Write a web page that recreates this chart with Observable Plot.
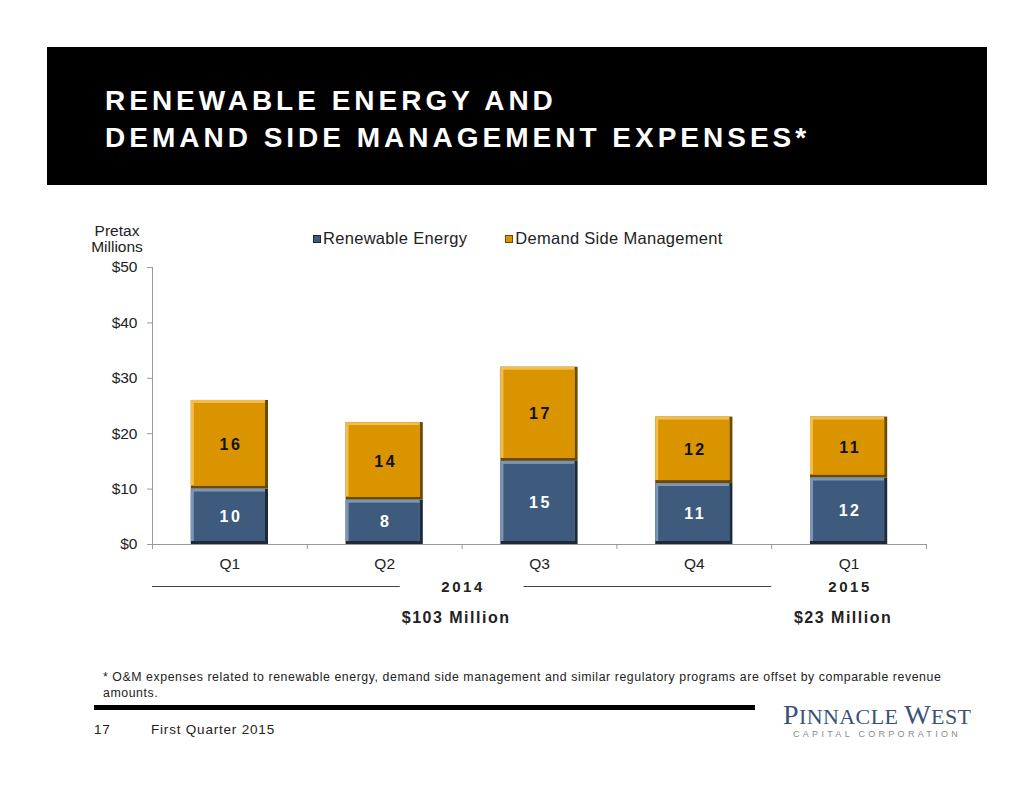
<!DOCTYPE html>
<html><head><meta charset="utf-8">
<script src="https://cdn.jsdelivr.net/npm/d3@7"></script>
<script src="https://cdn.jsdelivr.net/npm/@observablehq/plot@0.6"></script>
<style>
body{margin:0;width:1034px;height:799px;position:relative;background:#fff;font-family:"Liberation Sans",Arial,sans-serif;overflow:hidden;color:#222}
.banner{position:absolute;left:47px;top:47px;width:940px;height:138px;background:#000}
.title{position:absolute;left:105px;top:82px;color:#fff;font-weight:bold;font-size:28px;letter-spacing:4px;line-height:37px;white-space:nowrap}
.ylab{position:absolute;left:67px;width:100px;top:223px;text-align:center;font-size:15.5px;line-height:16px}
.legend{position:absolute;top:229px;left:313px;font-size:16.5px;letter-spacing:0.3px;white-space:nowrap;display:flex;align-items:center}
.legend .sw{display:inline-block;width:8px;height:8px;margin-right:2px}
.legend .item{display:flex;align-items:center;margin-right:38px}
#chart{position:absolute;left:0;top:250px}
.foot{position:absolute;left:103px;top:669px;font-size:12.3px;letter-spacing:0.58px;line-height:16px;white-space:nowrap}
.rule{position:absolute;left:94px;top:705px;width:661px;height:5px;background:#000}
.page{position:absolute;left:94px;top:722px;font-size:13.5px;letter-spacing:0.8px}
.qtr{position:absolute;left:151px;top:722px;font-size:13.5px;letter-spacing:0.8px}
.logo{position:absolute;left:783px;top:699px;font-family:"Liberation Serif","DejaVu Serif",serif;color:#3b5275;font-size:22px;letter-spacing:0.4px;white-space:nowrap}
.logo .big{font-size:28px}
.logo2{position:absolute;left:793px;top:729px;font-size:9px;letter-spacing:3.3px;color:#8a8a8a;white-space:nowrap}
g[aria-description="values"] text{letter-spacing:2.5px}
g[aria-description="years"] text{letter-spacing:2.6px}
g[aria-description="totals"] text{letter-spacing:1.5px}
</style>
</head><body>
<div class="banner"></div>
<div class="title">RENEWABLE ENERGY AND<br>DEMAND SIDE MANAGEMENT EXPENSES*</div>
<div class="ylab">Pretax<br>Millions</div>
<div class="legend" id="legend"></div>
<div id="chart"></div>
<div class="foot">* O&amp;M expenses related to renewable energy, demand side management and similar regulatory programs are offset by comparable revenue<br>amounts.</div>
<div class="rule"></div>
<div class="page">17</div>
<div class="qtr">First Quarter 2015</div>
<div class="logo"><span class="big">P</span>INNACLE <span class="big">W</span>EST</div>
<div class="logo2">CAPITAL CORPORATION</div>
<script>
// ---- data ----
const quarters = ["Q1", "Q2", "Q3", "Q4", "Q1"];
const renewable = [10, 8, 15, 11, 12];
const demandSide = [16, 14, 17, 12, 11];
const seriesNames = ["Renewable Energy", "Demand Side Management"];
const yTicks = [0, 10, 20, 30, 40, 50];
const years = ["2014", "2015"];
const yearTotals = ["$103 Million", "$23 Million"];
const yearStart = [0, 4];   // first quarter index of each year
const yearEnd = [4, 5];     // one past last quarter index

// palette: main, light edge, dark edge, label colour
const pal = {
  "Renewable Energy": {main: "#3e5b7d", light: "#7b95b4", dark: "#1c2a3b", text: "#fff"},
  "Demand Side Management": {main: "#d99400", light: "#f2bd4a", dark: "#6e4a00", text: "#111"}
};

// legend
const leg = document.getElementById("legend");
seriesNames.forEach(n => {
  const it = document.createElement("div"); it.className = "item";
  it.innerHTML = `<span class="sw" style="background:${pal[n].main};border:1px solid ${pal[n].dark};box-sizing:border-box"></span>${n}`;
  leg.appendChild(it);
});

// stacked segments
const segs = [];
quarters.forEach((q, i) => {
  segs.push({i, series: seriesNames[0], y1: 0, y2: renewable[i], v: renewable[i]});
  segs.push({i, series: seriesNames[1], y1: renewable[i], y2: renewable[i] + demandSide[i], v: demandSide[i]});
});

const groups = years.map((y, k) => ({label: y, total: yearTotals[k], a: yearStart[k], b: yearEnd[k], mid: (yearStart[k] + yearEnd[k]) / 2}));
const gap = 0.4;
const brackets = [];
groups.forEach(g => {
  if (g.b - g.a > 1) {
    brackets.push({x1: g.a, x2: g.mid - gap});
    brackets.push({x1: g.mid + gap, x2: g.b});
  }
});

const inset = 38.8;
const bev = 3;
const X1 = d => d.i, X2 = d => d.i + 1;

const chart = Plot.plot({
  width: 1034,
  height: 400,
  marginLeft: 152,
  marginRight: 108,
  marginTop: 17,
  marginBottom: 106,
  style: {fontFamily: '"Liberation Sans", Arial, sans-serif', fontSize: "15px", color: "#222", background: "transparent", overflow: "visible"},
  x: {domain: [0, quarters.length], axis: null},
  y: {domain: [0, 50], axis: null},
  marks: [
    Plot.ruleX([0], {stroke: "#9a9a9a"}),
    Plot.ruleY([0], {stroke: "#9a9a9a"}),
    Plot.axisY(yTicks, {anchor: "left", tickSize: 5, tickPadding: 10, stroke: "#9a9a9a", fill: "#222", fontSize: 15.5, tickFormat: d => "$" + d}),
    Plot.axisX(d3.range(quarters.length + 1), {anchor: "bottom", tickSize: 5, stroke: "#9a9a9a", tickFormat: () => ""}),
    Plot.text(quarters.map((q, i) => ({q, i})), {x: d => d.i + 0.5, y: () => 0, dy: 20, text: d => d.q, fill: "#222", fontSize: 15.5}),
    // bevelled bars
    Plot.rectY(segs, {x1: X1, x2: X2, y1: "y1", y2: "y2", insetLeft: inset, insetRight: inset, fill: d => pal[d.series].dark}),
    Plot.rectY(segs, {x1: X1, x2: X2, y1: "y1", y2: "y2", insetLeft: inset, insetRight: inset + bev, insetBottom: bev, fill: d => pal[d.series].light}),
    Plot.rectY(segs, {x1: X1, x2: X2, y1: "y1", y2: "y2", insetLeft: inset + bev, insetRight: inset + bev, insetTop: bev, insetBottom: bev, fill: d => pal[d.series].main}),
    Plot.text(segs, {ariaDescription: "values", x: d => d.i + 0.5, y: d => (d.y1 + d.y2) / 2, dx: 1, text: d => String(d.v), fill: d => pal[d.series].text, fontWeight: "bold", fontSize: 16}),
    // year groupings
    Plot.ruleY(brackets, {y: () => 0, x1: "x1", x2: "x2", dy: 42, stroke: "#444", strokeWidth: 1.2}),
    Plot.text(groups, {ariaDescription: "years", x: "mid", y: () => 0, dy: 43, dx: 1, text: "label", fontWeight: "bold", fontSize: 15, fill: "#222"}),
    Plot.text(groups, {ariaDescription: "totals", x: "mid", y: () => 0, dy: 73, dx: -6, text: "total", fontWeight: "bold", fontSize: 16, fill: "#222"})
  ]
});
document.getElementById("chart").appendChild(chart);
</script>
</body></html>
